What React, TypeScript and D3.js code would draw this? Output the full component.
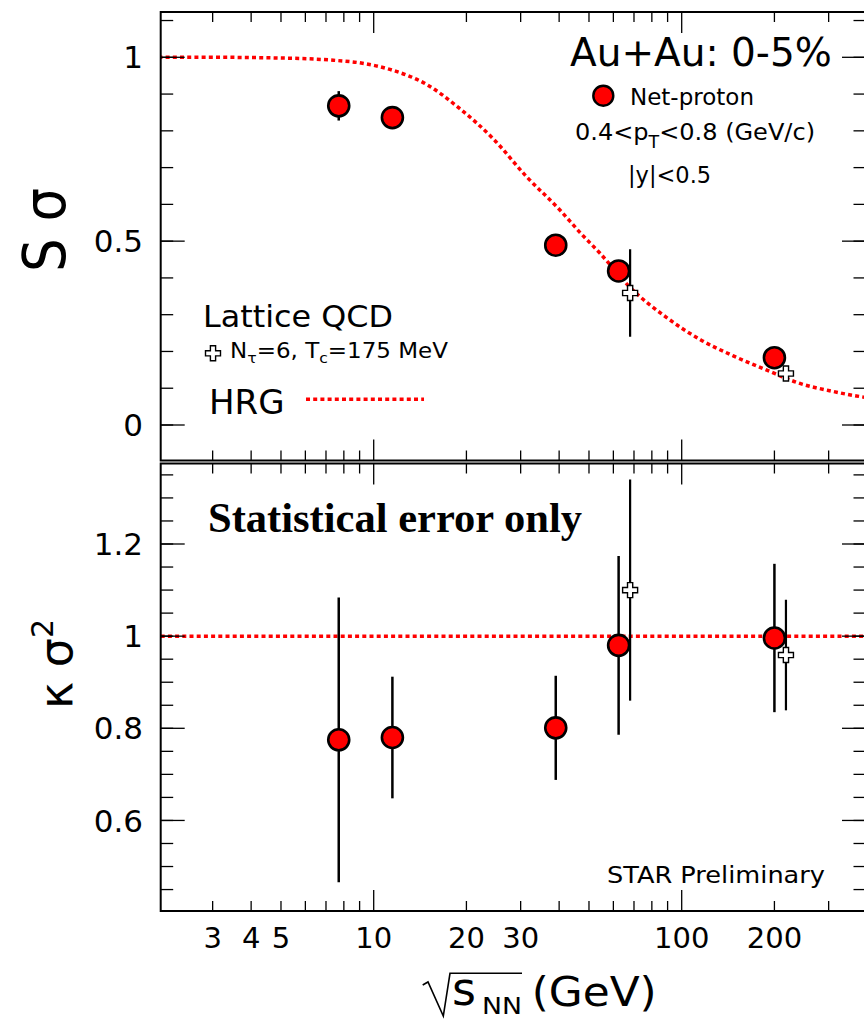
import React from 'react';
import * as d3 from 'd3';

// STAR net-proton data
const energies = [7.7, 11.5, 39, 62.4, 200];
const sSigma = [0.868, 0.836, 0.489, 0.419, 0.183];
const sSigmaErr = [0.04, 0.008, 0.008, 0.01, 0.01];
const kSigma2 = [0.775, 0.78, 0.801, 0.98, 0.996];
const kSigma2Err = [0.309, 0.132, 0.113, 0.194, 0.161];

// lattice QCD points (drawn slightly shifted in energy)
const latticeEnergies = [68, 218];
const latticeS = [0.359, 0.14];
const latticeSErr = [0.119, 0.0];
const latticeK = [1.1, 0.959];
const latticeKErr = [0.24, 0.12];

// HRG curve for S sigma
const hrgEnergies = [2, 3, 5, 7.4, 9, 11.5, 14.8, 19, 24.4, 31.3, 40.3, 46.7, 54.3, 68, 89.4, 115, 147, 189, 242, 311, 369, 420];
const hrgS = [1.0, 1.0, 0.998, 0.992, 0.985, 0.965, 0.927, 0.861, 0.779, 0.676, 0.584, 0.524, 0.467, 0.374, 0.292, 0.232, 0.188, 0.149, 0.113, 0.091, 0.079, 0.072];
const hrgK = 1.0;

const xTickLabels = [3, 4, 5, 10, 20, 30, 100, 200];
const xMinorTicks = [3, 4, 5, 6, 7, 8, 9, 20, 30, 40, 50, 60, 70, 80, 90, 200, 300];
const xMajorTicks = [10, 100];
const yTopLabels = [0, 0.5, 1];
const yBotLabels = [0.6, 0.8, 1, 1.2];

const FONT = '"DejaVu Sans", sans-serif';
const RED = '#ff0000';

const left = 160.7;
const right = 866;
const topY0 = 12, topY1 = 460.5;
const botY0 = 463.5, botY1 = 911;

const x = d3.scaleLog().domain([10, 100]).range([373.7, 681.7]);
const yTop = d3.scaleLinear().domain([0, 1]).range([425, 57.3]);
const yBot = d3.scaleLinear().domain([0.8, 1.2]).range([728.3, 544]);

const crossPath = (cx, cy) => {
  const a = 2.6, b = 7.5;
  return `M${cx - a},${cy - b}H${cx + a}V${cy - a}H${cx + b}V${cy + a}H${cx + a}V${cy + b}H${cx - a}V${cy + a}H${cx - b}V${cy - a}H${cx - a}Z`;
};

function XTicks({ y, dir }) {
  // dir = 1 ticks downwards, -1 upwards
  return (
    <g stroke="#000" strokeWidth={1.3}>
      {xMinorTicks.map(v => (
        <line key={'m' + v} x1={x(v)} x2={x(v)} y1={y} y2={y + dir * 10} />
      ))}
      {xMajorTicks.map(v => (
        <line key={'M' + v} x1={x(v)} x2={x(v)} y1={y} y2={y + dir * 21} />
      ))}
    </g>
  );
}

function YTicks({ scale, minor, major }) {
  return (
    <g stroke="#000" strokeWidth={1.3}>
      {minor.map(v => (
        <g key={'m' + v}>
          <line x1={left} x2={left + 12.5} y1={scale(v)} y2={scale(v)} />
          <line x1={right} x2={right - 12.5} y1={scale(v)} y2={scale(v)} />
        </g>
      ))}
      {major.map(v => (
        <g key={'M' + v}>
          <line x1={left} x2={left + 24} y1={scale(v)} y2={scale(v)} />
          <line x1={right} x2={right - 24} y1={scale(v)} y2={scale(v)} />
        </g>
      ))}
    </g>
  );
}

function Points({ xs, ys, errs, scale }) {
  return (
    <g>
      <g stroke="#000" strokeWidth={2.5}>
        {xs.map((e, i) => errs[i] > 0 ? (
          <line key={i} x1={x(e)} x2={x(e)} y1={scale(ys[i] + errs[i])} y2={scale(ys[i] - errs[i])} />
        ) : null)}
      </g>
      {xs.map((e, i) => (
        <circle key={i} cx={x(e)} cy={scale(ys[i])} r={10.5} fill={RED} stroke="#000" strokeWidth={2.6} />
      ))}
    </g>
  );
}

function Lattice({ xs, ys, errs, scale }) {
  return (
    <g>
      <g stroke="#000" strokeWidth={2.2}>
        {xs.map((e, i) => errs[i] > 0 ? (
          <line key={i} x1={x(e)} x2={x(e)} y1={scale(ys[i] + errs[i])} y2={scale(ys[i] - errs[i])} />
        ) : null)}
      </g>
      {xs.map((e, i) => (
        <path key={i} d={crossPath(x(e), scale(ys[i]))} fill="#fff" stroke="#000" strokeWidth={1.4} />
      ))}
    </g>
  );
}

export default function App() {
  const topMinor = d3.range(0, 12).map(i => +(i * 0.1).toFixed(2));
  const botMinor = d3.range(9, 28).map(i => +(i * 0.05).toFixed(2));

  const hrgLine = d3.line()
    .x((d) => x(d[0]))
    .y((d) => yTop(d[1]))
    .curve(d3.curveMonotoneX);
  const hrgPts = hrgEnergies.map((e, i) => [e, hrgS[i]]);

  return (
    <svg width={864} height={1021} style={{ position: 'absolute', left: 0, top: 0, background: '#fff' }}>
      <defs>
        <clipPath id="clipTop">
          <rect x={left} y={topY0} width={right - left} height={topY1 - topY0} />
        </clipPath>
        <clipPath id="clipBot">
          <rect x={left} y={botY0} width={right - left} height={botY1 - botY0} />
        </clipPath>
      </defs>
      <rect width={864} height={1021} fill="#fff" />

      {/* ---------- top panel ---------- */}
      <path d={hrgLine(hrgPts)} fill="none" stroke={RED} strokeWidth={3.5} strokeDasharray="4 3.2" clipPath="url(#clipTop)" />
      <Lattice xs={latticeEnergies} ys={latticeS} errs={latticeSErr} scale={yTop} />
      <Points xs={energies} ys={sSigma} errs={sSigmaErr} scale={yTop} />

      <XTicks y={topY0} dir={1} />
      <XTicks y={topY1} dir={-1} />
      <YTicks scale={yTop} minor={topMinor} major={yTopLabels} />
      <rect x={left} y={topY0} width={right - left} height={topY1 - topY0} fill="none" stroke="#000" strokeWidth={2} />

      <g fontFamily={FONT} fontSize={31} textAnchor="end">
        {yTopLabels.map(v => (
          <text key={v} x={143} y={yTop(v)} dy="0.36em">{d3.format('')(v)}</text>
        ))}
      </g>
      <text transform="translate(65,230) rotate(-90)" textAnchor="middle" fontFamily={FONT} fontSize={58}
        textLength={84} lengthAdjust="spacingAndGlyphs">S σ</text>

      <text x={570} y={66} fontFamily={FONT} fontSize={39}>Au+Au: 0-5%</text>
      <circle cx={603.3} cy={95.7} r={10} fill={RED} stroke="#000" strokeWidth={2.4} />
      <text x={630} y={105} fontFamily={FONT} fontSize={23}>Net-proton</text>
      <text x={575} y={140} fontFamily={FONT} fontSize={23.5} textLength={240} lengthAdjust="spacingAndGlyphs">
        0.4&lt;p<tspan fontSize={17} dy={8}>T</tspan><tspan dy={-8}>&lt;0.8 (GeV/c)</tspan>
      </text>
      <text x={628} y={183} fontFamily={FONT} fontSize={22.5}>|y|&lt;0.5</text>

      <text x={203} y={326.7} fontFamily={FONT} fontSize={30} textLength={190} lengthAdjust="spacingAndGlyphs">Lattice QCD</text>
      <path d={crossPath(213, 353.3)} fill="#fff" stroke="#000" strokeWidth={1.4} />
      <text x={230} y={358} fontFamily={FONT} fontSize={20.5} textLength={218} lengthAdjust="spacingAndGlyphs">
        N<tspan fontSize={14} dy={5}>τ</tspan><tspan dy={-5}>=6, T</tspan><tspan fontSize={14} dy={5}>c</tspan><tspan dy={-5}>=175 MeV</tspan>
      </text>
      <text x={209} y={414} fontFamily={FONT} fontSize={34}>HRG</text>
      <line x1={306} x2={424} y1={399.3} y2={399.3} stroke={RED} strokeWidth={3.5} strokeDasharray="4 3.2" />

      {/* ---------- bottom panel ---------- */}
      <line x1={left} x2={right} y1={yBot(hrgK)} y2={yBot(hrgK)} stroke={RED} strokeWidth={3.5} strokeDasharray="4 3.2" clipPath="url(#clipBot)" />
      <Lattice xs={latticeEnergies} ys={latticeK} errs={latticeKErr} scale={yBot} />
      <Points xs={energies} ys={kSigma2} errs={kSigma2Err} scale={yBot} />

      <XTicks y={botY0} dir={1} />
      <XTicks y={botY1} dir={-1} />
      <YTicks scale={yBot} minor={botMinor} major={yBotLabels} />
      <rect x={left} y={botY0} width={right - left} height={botY1 - botY0} fill="none" stroke="#000" strokeWidth={2} />

      <g fontFamily={FONT} fontSize={31} textAnchor="end">
        {yBotLabels.map(v => (
          <text key={v} x={143} y={yBot(v)} dy="0.36em">{d3.format('')(v)}</text>
        ))}
      </g>
      <text transform="translate(71.7,664) rotate(-90)" textAnchor="middle" fontFamily={FONT} fontSize={46}>
        κ σ<tspan fontSize={30} dy={-19}>2</tspan>
      </text>

      <text x={208} y={532} fontFamily='"Liberation Serif", "Times New Roman", serif' fontWeight="bold" fontSize={42}
        textLength={374} lengthAdjust="spacingAndGlyphs">Statistical error only</text>
      <text x={607} y={883.3} fontFamily={FONT} fontSize={23} textLength={218} lengthAdjust="spacingAndGlyphs">STAR Preliminary</text>

      {/* ---------- x axis labels ---------- */}
      <g fontFamily={FONT} fontSize={29} textAnchor="middle">
        {xTickLabels.map(v => (
          <text key={v} x={x(v)} y={948}>{v}</text>
        ))}
      </g>
      <path d="M422.7,985 L428,982 L443.3,1016 L450,973.3 H522" fill="none" stroke="#000" strokeWidth={1.6} />
      <text x={452} y={1005} fontFamily={FONT} fontSize={46}>s</text>
      <text x={482} y={1014} fontFamily={FONT} fontSize={23} textLength={40} lengthAdjust="spacingAndGlyphs">NN</text>
      <text x={531.7} y={1006} fontFamily={FONT} fontSize={41} textLength={125} lengthAdjust="spacingAndGlyphs">(GeV)</text>
    </svg>
  );
}
